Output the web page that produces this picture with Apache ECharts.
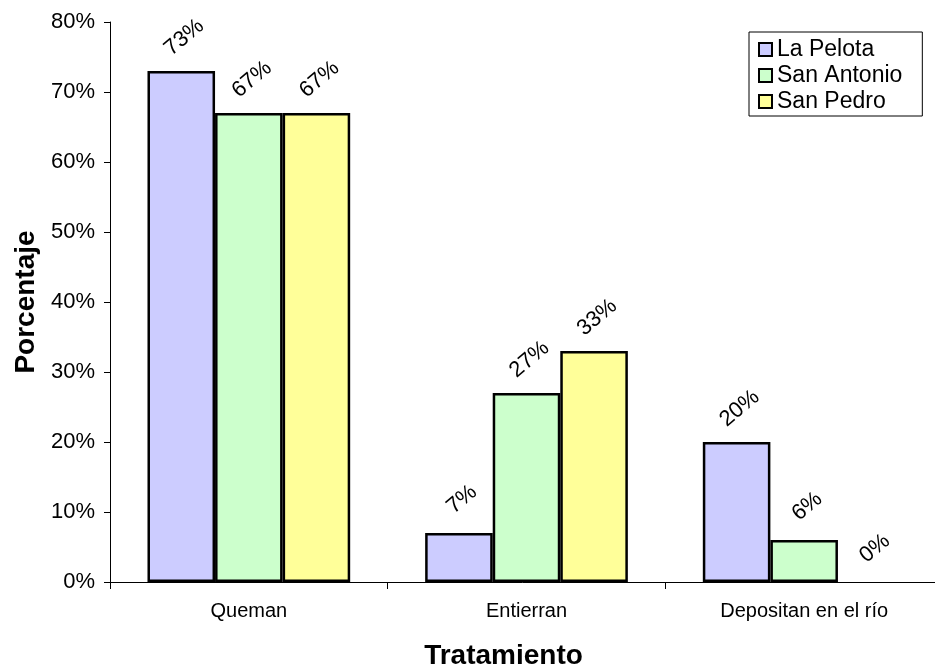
<!DOCTYPE html>
<html>
<head>
<meta charset="utf-8">
<script src="https://cdn.jsdelivr.net/npm/echarts@6/dist/echarts.min.js"></script>
<style>
html,body{margin:0;padding:0;background:#fff;}
#chart{width:935px;height:667px;}
</style>
</head>
<body>
<div id="chart"></div>
<script>
const categories = ['Queman', 'Entierran', 'Depositan en el río'];
const seriesNames = ['La Pelota', 'San Antonio', 'San Pedro'];
const laPelota = [73, 7, 20];
const sanAntonio = [67, 27, 6];
const sanPedro = [67, 33, 0];
const colors = ['#CCCCFF', '#CCFFCC', '#FFFF99'];

const FONT = '"Liberation Sans", Arial, sans-serif';
const chart = echarts.init(document.getElementById('chart'), null, {renderer: 'canvas'});

function makeSeries(name, data, color) {
  return {
    name: name,
    type: 'bar',
    data: data.map(v => v === 0 ? {value: v, itemStyle: {borderWidth: 0}} : v),
    barGap: '0%',
    barCategoryGap: '27%',
    itemStyle: {color: color, borderColor: '#000', borderWidth: 2.5},
    label: {
      show: true,
      position: 'top',
      distance: 31,
      rotate: 40,
      align: 'center',
      verticalAlign: 'middle',
      offset: [4, 0],
      formatter: '{c}%',
      fontFamily: FONT,
      fontSize: 22,
      color: '#000'
    }
  };
}

chart.setOption({
  backgroundColor: '#fff',
  animation: false,
  textStyle: {fontFamily: FONT},
  grid: {left: 110, right: -8, top: 22, bottom: 85, containLabel: false, outerBoundsMode: 'none'},
  legend: {
    orient: 'vertical',
    left: 749,
    top: 32,
    data: seriesNames,
    icon: 'rect',
    itemWidth: 13,
    itemHeight: 13,
    itemGap: 3,
    padding: [6, 20, 3, 9],
    borderColor: '#000',
    borderWidth: 1,
    textStyle: {fontFamily: FONT, fontSize: 23, lineHeight: 22, color: '#000'}
  },
  xAxis: {
    type: 'category',
    data: categories,
    name: 'Tratamiento',
    nameLocation: 'middle',
    nameGap: 60,
    nameTextStyle: {fontFamily: FONT, fontSize: 28, fontWeight: 'bold', color: '#000', padding: [0, 46, 0, 0]},
    axisLine: {lineStyle: {color: '#000', width: 1}},
    axisTick: {show: true, length: 7, lineStyle: {color: '#000'}},
    axisLabel: {fontFamily: FONT, fontSize: 20, color: '#000', margin: 19}
  },
  yAxis: {
    type: 'value',
    min: 0,
    max: 80,
    interval: 10,
    name: 'Porcentaje',
    nameLocation: 'middle',
    nameGap: 70,
    nameTextStyle: {fontFamily: FONT, fontSize: 28, fontWeight: 'bold', color: '#000'},
    splitLine: {show: false},
    axisLine: {show: true, lineStyle: {color: '#000', width: 1}},
    axisTick: {show: true, length: 6, lineStyle: {color: '#000'}},
    axisLabel: {fontFamily: FONT, fontSize: 22, color: '#000', margin: 15, formatter: '{value}%'}
  },
  series: [
    makeSeries(seriesNames[0], laPelota, colors[0]),
    makeSeries(seriesNames[1], sanAntonio, colors[1]),
    makeSeries(seriesNames[2], sanPedro, colors[2])
  ]
});
</script>
</body>
</html>
